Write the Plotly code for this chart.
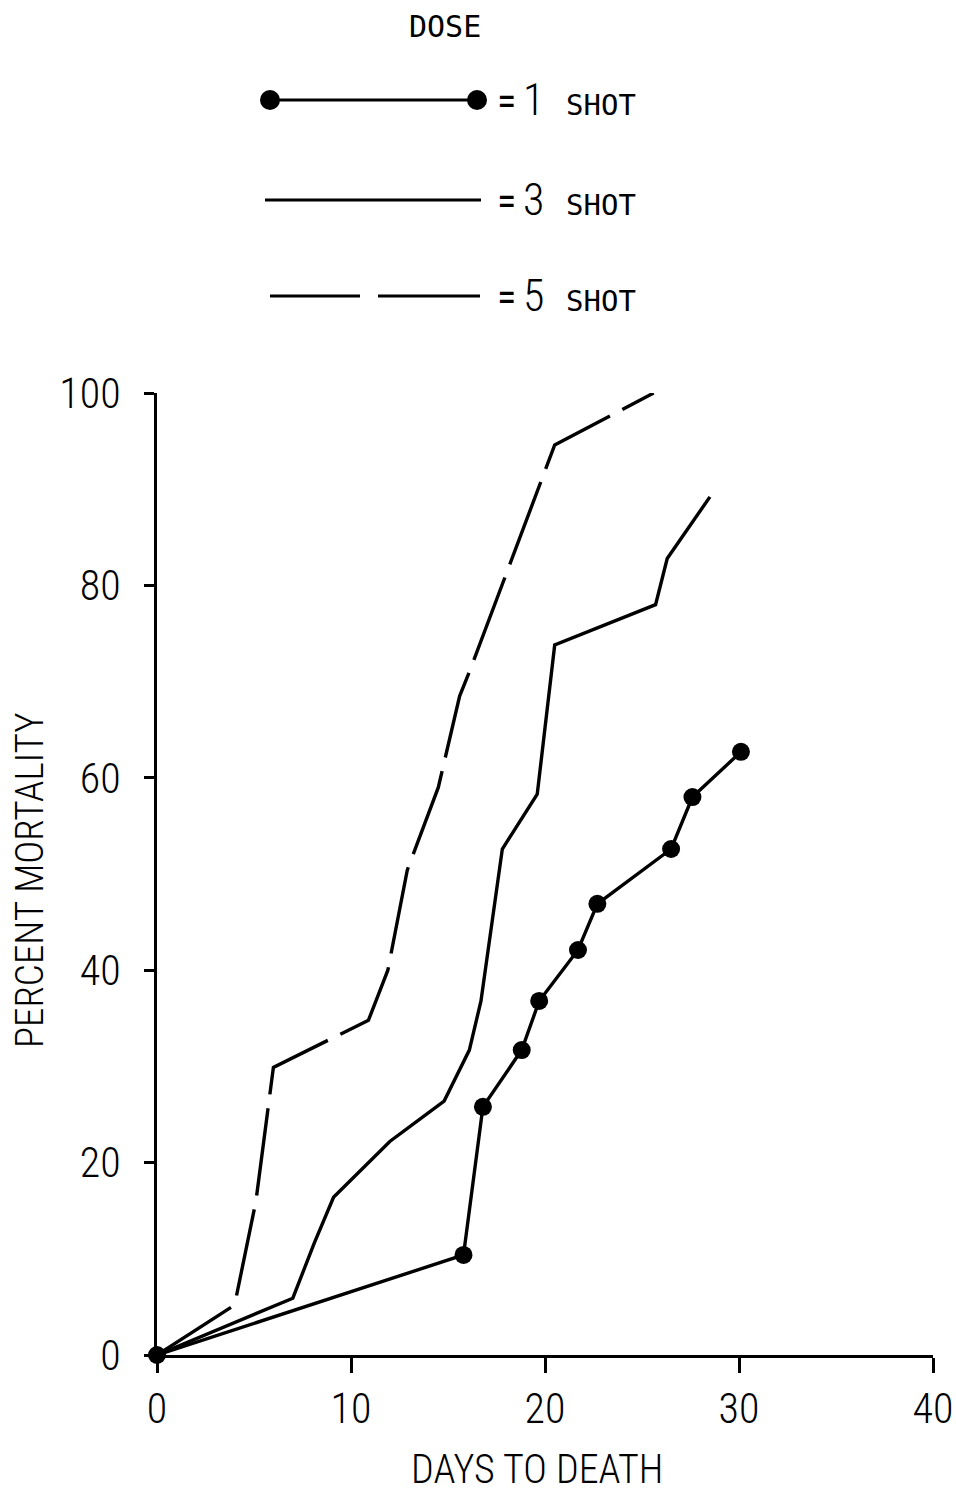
import plotly.graph_objects as go

# ---- data ----
days_1shot = [0, 15.8, 16.8, 18.8, 19.7, 21.7, 22.7, 26.5, 27.6, 30.1]
mort_1shot = [0, 10.4, 25.8, 31.7, 36.8, 42.1, 46.9, 52.6, 58.0, 62.7]

days_3shot = [0, 7.0, 8.1, 9.1, 12.0, 14.8, 16.1, 16.7, 17.8, 19.6, 20.5, 25.7, 26.3, 28.5]
mort_3shot = [0, 5.9, 11.6, 16.4, 22.2, 26.4, 31.7, 36.8, 52.6, 58.3, 73.8, 78.0, 82.8, 89.2]

days_5shot = [0, 4.0, 5.1, 6.0, 10.9, 11.9, 12.9, 14.5, 15.6, 16.1, 20.5, 25.6]
mort_5shot = [0, 5.2, 16.0, 29.9, 34.8, 40.0, 50.4, 59.0, 68.5, 71.0, 94.6, 100.0]

x_ticks = [0, 10, 20, 30, 40]
y_ticks = [0, 20, 40, 60, 80, 100]

legend_labels = ["1", "3", "5"]

W, H = 956, 1495
L, R, T, B = 157, 933, 393, 1355


def px(xp):
    return (xp - L) / (R - L)


def py(yp):
    return (B - yp) / (B - T)


NARROW = "Roboto Condensed, Liberation Sans Narrow, sans-serif"
MONO = "DejaVu Sans Mono, Liberation Mono, monospace"

fig = go.Figure()
fig.add_trace(go.Scatter(x=days_5shot, y=mort_5shot, mode="lines",
                         line=dict(color="black", width=3.4, dash="88px,14px"),
                         cliponaxis=False, showlegend=False))
fig.add_trace(go.Scatter(x=days_3shot, y=mort_3shot, mode="lines",
                         line=dict(color="black", width=3.4),
                         cliponaxis=False, showlegend=False))
fig.add_trace(go.Scatter(x=days_1shot, y=mort_1shot, mode="lines+markers",
                         line=dict(color="black", width=3.4),
                         marker=dict(color="black", size=18),
                         cliponaxis=False, showlegend=False))

shapes = []
annotations = []

# legend lines
ly = [100, 200, 296]
shapes.append(dict(type="line", xref="paper", yref="paper",
                   x0=px(270), x1=px(477), y0=py(ly[0]), y1=py(ly[0]),
                   line=dict(color="black", width=3)))
for cx in (270, 477):
    shapes.append(dict(type="circle", xref="paper", yref="paper",
                       x0=px(cx - 10), x1=px(cx + 10), y0=py(ly[0] + 10), y1=py(ly[0] - 10),
                       fillcolor="black", line=dict(color="black", width=0)))
shapes.append(dict(type="line", xref="paper", yref="paper",
                   x0=px(265), x1=px(481), y0=py(ly[1]), y1=py(ly[1]),
                   line=dict(color="black", width=3)))
shapes.append(dict(type="line", xref="paper", yref="paper",
                   x0=px(270), x1=px(360), y0=py(ly[2]), y1=py(ly[2]),
                   line=dict(color="black", width=3)))
shapes.append(dict(type="line", xref="paper", yref="paper",
                   x0=px(378), x1=px(480), y0=py(ly[2]), y1=py(ly[2]),
                   line=dict(color="black", width=3)))

annotations.append(dict(text="DOSE", xref="paper", yref="paper", x=px(445), y=py(27),
                        showarrow=False, xanchor="center", yanchor="middle",
                        font=dict(family=MONO, size=30, color="black")))
for lab, yy in zip(legend_labels, ly):
    annotations.append(dict(text="=", xref="paper", yref="paper", x=px(495), y=py(yy + 1),
                            showarrow=False, xanchor="left", yanchor="middle",
                            font=dict(family=NARROW, size=40, color="black")))
    annotations.append(dict(text=lab, xref="paper", yref="paper", x=px(521), y=py(yy),
                            showarrow=False, xanchor="left", yanchor="middle",
                            font=dict(family=NARROW, size=44, color="black", weight=300)))
    annotations.append(dict(text="SHOT", xref="paper", yref="paper", x=px(564), y=py(yy + 5),
                            showarrow=False, xanchor="left", yanchor="middle",
                            font=dict(family=MONO, size=29, color="black")))

annotations.append(dict(text="PERCENT MORTALITY", xref="paper", yref="paper", x=px(30), y=py(880),
                        showarrow=False, xanchor="center", yanchor="middle", textangle=-90,
                        font=dict(family=NARROW, size=39, color="black", weight=300)))
annotations.append(dict(text="DAYS TO DEATH", xref="paper", yref="paper", x=px(537), y=py(1469),
                        showarrow=False, xanchor="center", yanchor="middle",
                        font=dict(family=NARROW, size=40, color="black", weight=300)))

fig.update_layout(
    width=W, height=H,
    margin=dict(l=L, r=W - R, t=T, b=H - B, pad=0, autoexpand=False),
    paper_bgcolor="white", plot_bgcolor="white",
    shapes=shapes, annotations=annotations,
    font=dict(family=NARROW, color="black"),
    xaxis=dict(range=[0, 40], tickvals=x_ticks, ticktext=[str(v) for v in x_ticks],
               showgrid=False, zeroline=False, showline=True, linecolor="black", linewidth=3,
               ticks="outside", ticklen=15, tickwidth=3, tickcolor="black",
               tickfont=dict(family=NARROW, size=42, color="black", weight=300),
               ticklabelstandoff=0, ticklabeloverflow="allow", automargin=False),
    yaxis=dict(range=[0, 100], tickvals=y_ticks, ticktext=[str(v) for v in y_ticks],
               showgrid=False, zeroline=False, showline=True, linecolor="black", linewidth=3,
               ticks="outside", ticklen=10, tickwidth=3, tickcolor="black",
               tickfont=dict(family=NARROW, size=42, color="black", weight=300),
               ticklabelstandoff=15, ticklabeloverflow="allow", automargin=False),
)

fig.write_html("out.html")
